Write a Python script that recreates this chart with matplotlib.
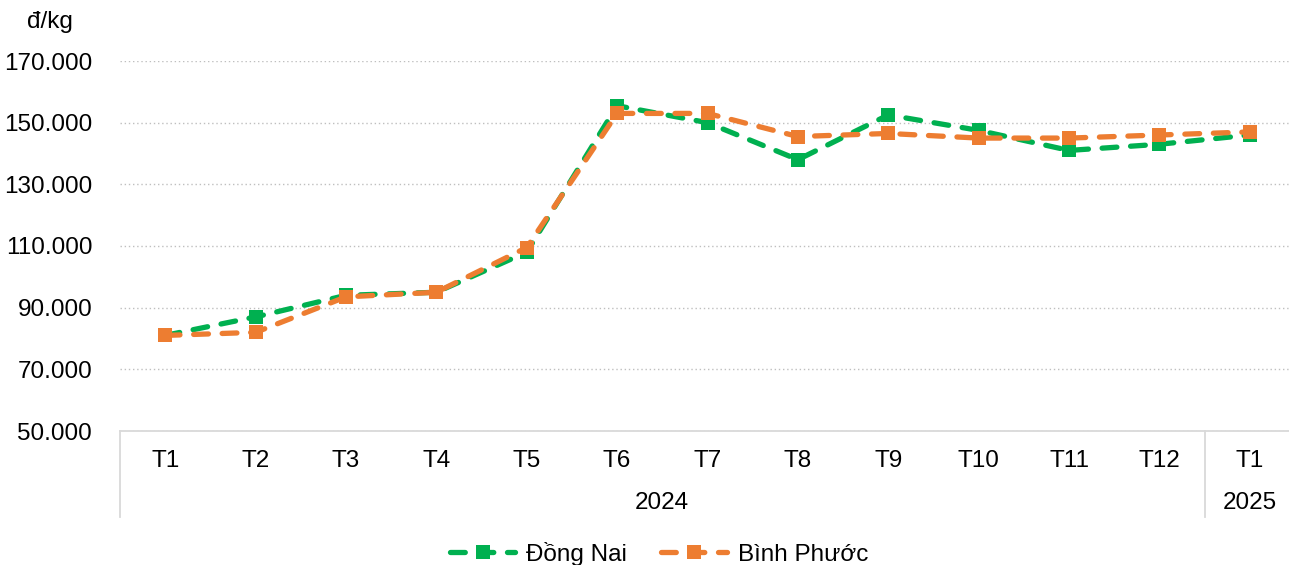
import numpy as np
import matplotlib.pyplot as plt
from matplotlib.ticker import FuncFormatter

plt.rcParams['font.family'] = ['Liberation Sans', 'DejaVu Sans']

#%%
thang = ["T1", "T2", "T3", "T4", "T5", "T6", "T7", "T8", "T9", "T10", "T11", "T12", "T1"]
nam = ["2024", "2025"]
so_thang_nam = [12, 1]

dong_nai = [81000, 87000, 94000, 95000, 108000, 155500, 150000, 138000,
            152500, 147500, 141000, 143000, 146000]
binh_phuoc = [81000, 82000, 93500, 95000, 109500, 153000, 153000, 145500,
              146500, 145000, 145000, 146000, 147000]

fs = 17.5

#%%
fig = plt.figure(figsize=(12.89, 5.65), dpi=100)
ax = fig.add_axes([120/1289, 1 - 431/565, 1175/1289, 370/565])

x = np.arange(len(thang))
estilo = dict(lw=3.8, ls=(0, (2.8, 2.6)), dash_capstyle="round",
              marker="s", ms=10, markeredgewidth=0)
ax.plot(x, dong_nai, color="#00B050", label="Đồng Nai", **estilo)
ax.plot(x, binh_phuoc, color="#ED7D31", label="Bình Phước", **estilo)

ax.set_xlim(-0.5, len(thang) - 0.5)
ax.set_ylim(50000, 170000)
ax.set_yticks(np.arange(50000, 170001, 20000))
ax.yaxis.set_major_formatter(FuncFormatter(lambda v, p: f"{int(v):,}".replace(",", ".")))
ax.grid(axis="y", color="#BFBFBF", ls=(0, (1, 2)), lw=1)
ax.set_axisbelow(True)

for s in ["top", "right", "left"]:
    ax.spines[s].set_visible(False)
ax.spines["bottom"].set_color("#D9D9D9")
ax.spines["bottom"].set_linewidth(1.3)

ax.set_xticks(x)
ax.set_xticklabels(thang)
ax.tick_params(axis="x", length=0, pad=14, labelsize=fs)
ax.tick_params(axis="y", length=0, pad=20, labelsize=fs)

# etiquetas de año y separadores
trans = ax.get_xaxis_transform()
inicio = -0.5
ax.plot([inicio, inicio], [0, -86/370], transform=trans, color="#D9D9D9", lw=1.3, clip_on=False)
for n, k in zip(nam, so_thang_nam):
    fin = inicio + k
    ax.text((inicio + fin) / 2, -72/370, n, transform=trans, ha="center", va="center", fontsize=fs)
    if fin < len(thang) - 0.5:
        ax.plot([fin, fin], [0, -86/370], transform=trans, color="#D9D9D9", lw=1.3, clip_on=False)
    inicio = fin

fig.text(50/1289, 1 - 22/565, "đ/kg", ha="center", va="center", fontsize=fs)

ax.legend(loc="center", bbox_to_anchor=((659 - 120)/1175, -(554 - 431)/370), ncol=2, frameon=False,
          fontsize=fs, handlelength=2.7, columnspacing=1.4, handletextpad=0.45,
          borderaxespad=0, borderpad=0)

plt.savefig("out.png", dpi=100)
